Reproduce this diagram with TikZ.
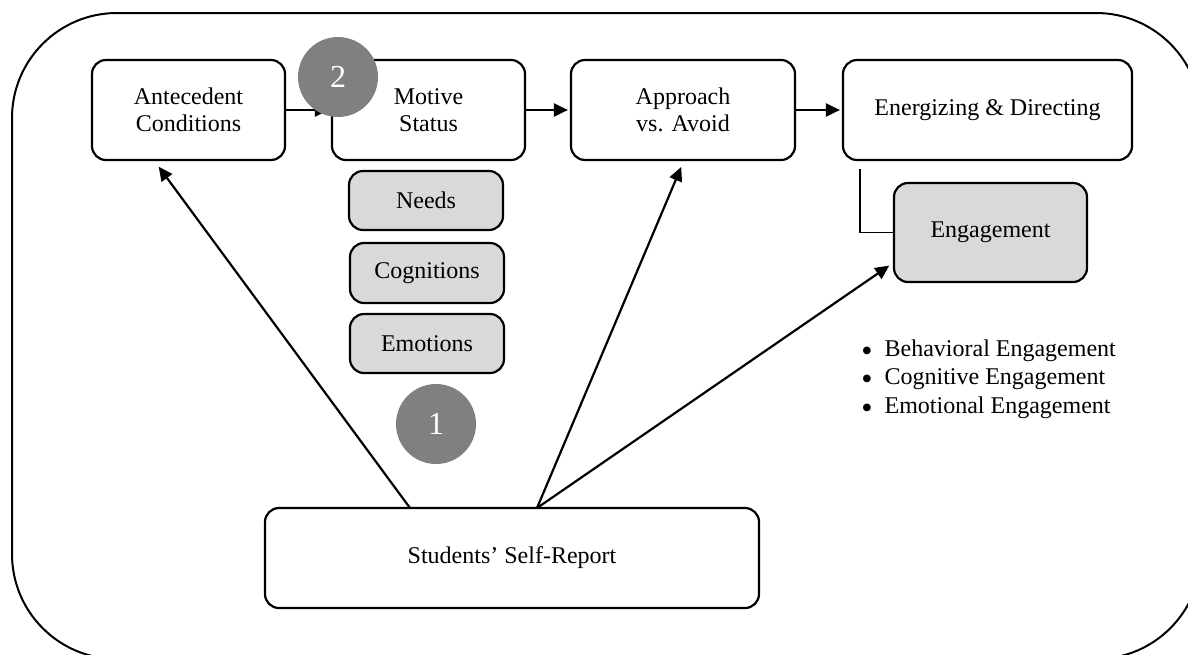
\documentclass[tikz,border=0pt]{standalone}
\usepackage{fontspec}
\setmainfont{Liberation Serif}
\usepackage{xcolor}
\usetikzlibrary{arrows.meta}
\definecolor{diagink}{HTML}{000000}
\definecolor{boxgray}{HTML}{D9D9D9}
\definecolor{badgegray}{HTML}{808080}

\newcommand{\engbullet}{\raisebox{-2.6pt}[0pt][0pt]{\fontsize{16}{12}\selectfont\textbullet}\hspace{6pt}}

\tikzset{
  stagebox/.style={draw=diagink, line width=1.1pt, rounded corners=7pt, fill=white,
                   align=center, inner sep=0pt, font=\fontsize{12}{13.5}\selectfont},
  subbox/.style={stagebox, fill=boxgray},
  badge/.style={circle, fill=badgegray, draw=none, text=white, minimum size=40pt,
                inner sep=0pt, font=\fontsize{16}{18}\selectfont},
  link/.style={draw=diagink, line width=1.1pt, ->, shorten >=1pt}
}

\begin{document}
\begin{tikzpicture}[x=0.5pt, y=-0.5pt, >={Triangle[length=7pt, width=6.5pt]},
                    every node/.style={diagink}]

  \useasboundingbox (0,0) rectangle (1188,654);

  %% 外框
  \draw[diagink, line width=1pt, rounded corners=52.5pt] (12,13) rectangle (1201,659);

  %% 上排四個階段
  \node[stagebox, minimum width=96.5pt, minimum height=50pt]  (ante)   at (188.5,110) {Antecedent\\Conditions};
  \node[stagebox, minimum width=96.5pt, minimum height=50pt]  (motive) at (428.5,110) {Motive\\Status};
  \node[stagebox, minimum width=112pt, minimum height=50pt]   (appr)   at (683,110)   {Approach\\vs. Avoid};
  \node[stagebox, minimum width=144.5pt, minimum height=50pt] (energ)  at (987.5,110) {Energizing \& Directing};

  %% 動機狀態的三個成分
  \node[subbox, minimum width=77pt, minimum height=29.5pt] (needs) at (426,200.5) {Needs};
  \node[subbox, minimum width=77pt, minimum height=30pt]   (cogn)  at (427,273)   {Cognitions};
  \node[subbox, minimum width=77pt, minimum height=29.5pt] (emot)  at (427,343.5) {Emotions};

  %% 投入
  \node[subbox, minimum width=96.5pt, minimum height=49.5pt] (engage) at (990.5,232.5) {Engagement};
  \node[anchor=north west, align=left, inner sep=0pt, font=\fontsize{12}{14.25}\selectfont]
       (engList) at (861,339) {\engbullet Behavioral Engagement\\
                               \engbullet Cognitive Engagement\\
                               \engbullet Emotional Engagement};

  %% 自陳量表
  \node[stagebox, minimum width=247pt, minimum height=50pt] (report) at (512,558) {Students' Self-Report};

  %% 流程箭頭
  \draw[link] (ante)  -- (motive);
  \draw[link] (motive) -- (appr);
  \draw[link] (appr)  -- (energ);
  \draw[diagink, line width=0.6pt] ([xshift=9pt,yshift=-4pt]energ.south west) |- (engage.west);

  %% 由自陳量表出發的箭頭
  \coordinate (srLeft) at (410,508);
  \coordinate (srMid)  at (537,508);
  \draw[link] (srLeft) -- ([xshift=-15.5pt,yshift=-2pt]ante.south);
  \draw[link] (srMid)  -- ([xshift=-0.5pt,yshift=-2pt]appr.south);
  \draw[link] (srMid)  -- ([xshift=-1pt,yshift=-16pt]engage.west);

  %% 編號圓點
  \node[badge] (badgeTwo) at (338,77)  {2};
  \node[badge] (badgeOne) at (436,424) {1};

\end{tikzpicture}
\end{document}
